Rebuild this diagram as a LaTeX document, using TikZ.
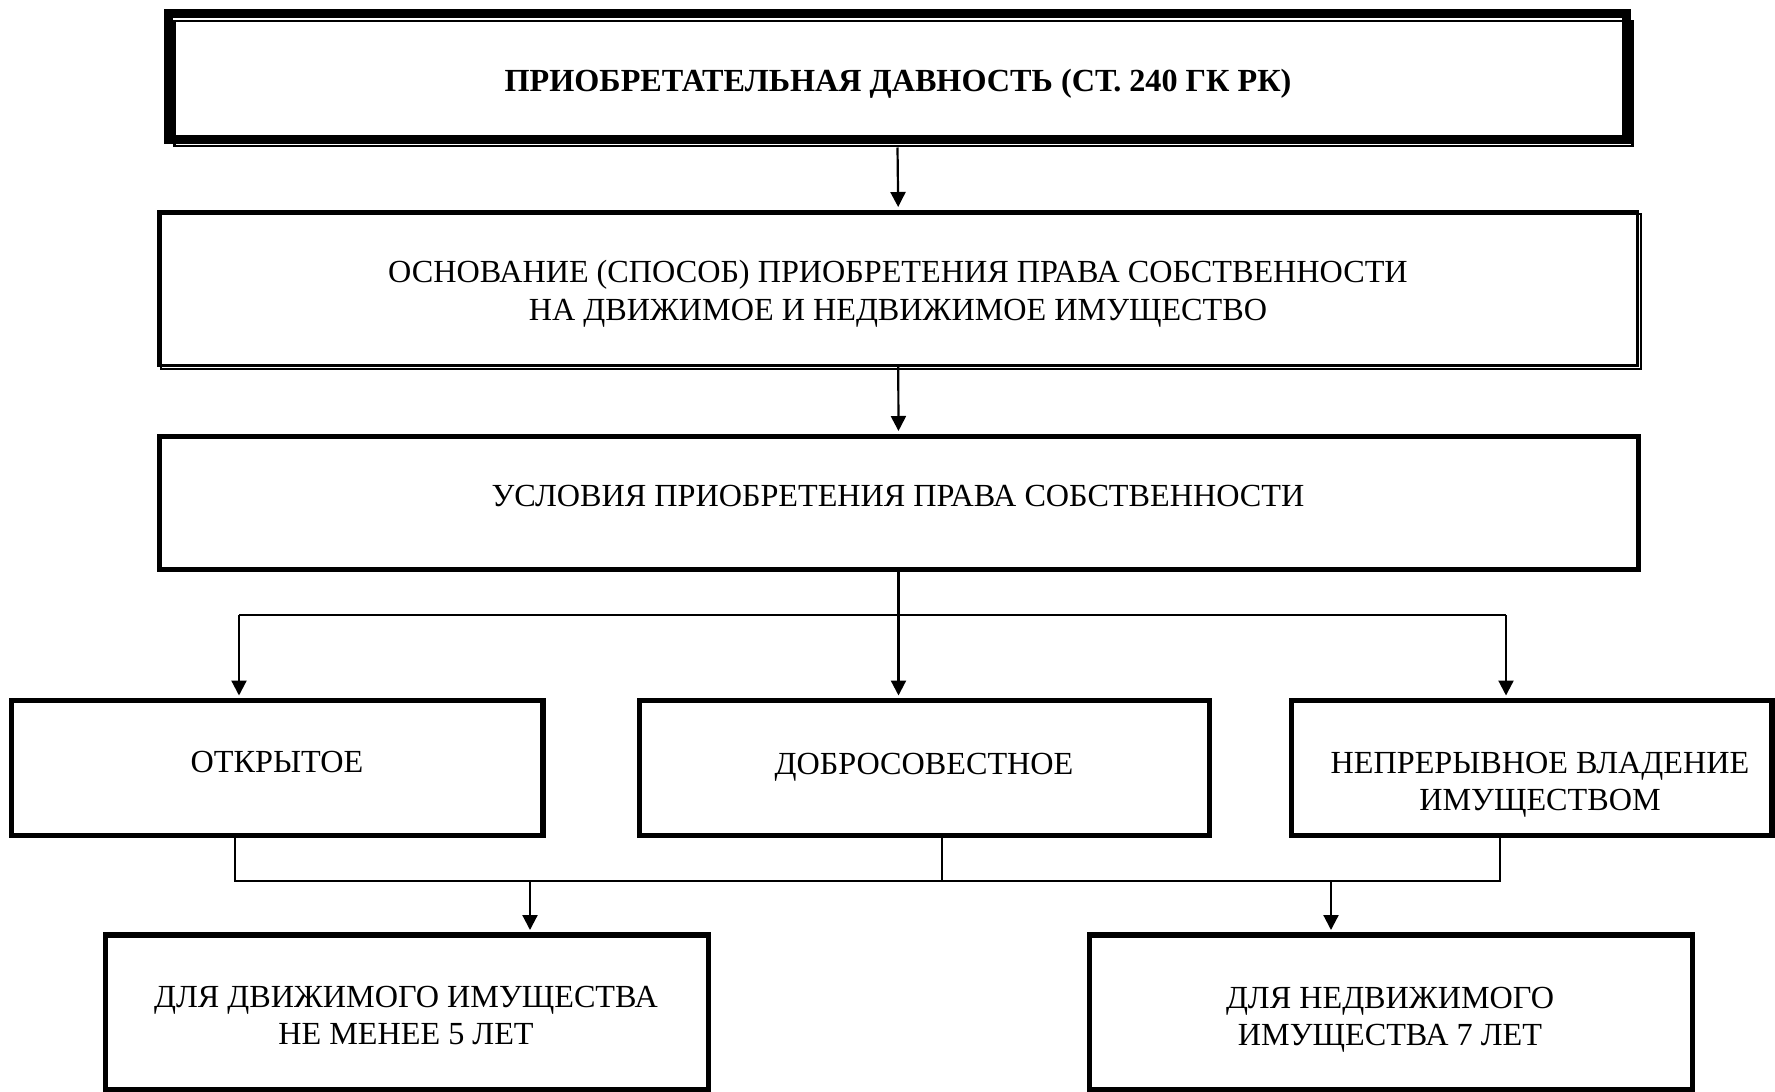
\documentclass[tikz,border=0pt]{standalone}
\usepackage{fontspec}
\setmainfont{Liberation Serif}
\usetikzlibrary{arrows.meta,calc}
\begin{document}
\begin{tikzpicture}[x=1pt,y=-1pt,
 box/.style={draw,line width=5.3pt,outer sep=0pt,inner sep=0pt,rectangle},
 txt/.style={font=\fontsize{32.2}{37.5}\selectfont,align=center,inner sep=0pt},
 arr/.style={line width=2.2pt,-{Triangle[width=15pt,length=15pt]},shorten >=5pt},
 ln/.style={line width=1.6pt}]
\useasboundingbox (0,0) rectangle (1775,1092);
\clip (0,0) rectangle (1775,1092);
% top box
\node[box,line width=9pt,minimum width=1458pt,minimum height=126pt] (t1) at (897.5,76.5) {};
\draw[line width=2.5pt] ($(t1.north west)+(6,7.5)$) rectangle ($(t1.south east)+(6,6.5)$);
\node[txt,font=\fontsize{32.2}{37}\selectfont\bfseries] (t1t) at (898,84) {ПРИОБРЕТАТЕЛЬНАЯ ДАВНОСТЬ (СТ.~240 ГК РК)};
% second box
\node[box,line width=3.5pt,minimum width=1478.5pt,minimum height=153.5pt] (t2) at (898.25,288.75) {};
\draw[line width=1.5pt] ($(t2.north west)+(2,2)$) rectangle ($(t2.south east)+(3.5,3.5)$);
\node[txt] (t2t) at (898,294) {ОСНОВАНИЕ (СПОСОБ) ПРИОБРЕТЕНИЯ ПРАВА СОБСТВЕННОСТИ\\НА ДВИЖИМОЕ И НЕДВИЖИМОЕ ИМУЩЕСТВО};
% third box
\node[box,line width=5pt,minimum width=1479pt,minimum height=133pt] (b3) at (898.5,502.5) {};
\node[txt] (b3t) at (898,496) {УСЛОВИЯ ПРИОБРЕТЕНИЯ ПРАВА СОБСТВЕННОСТИ};
% row
\node[box,minimum width=531.5pt,minimum height=135pt] (rA) at (277.25,768) {};
\node[txt] (rAt) at (277,762) {ОТКРЫТОЕ};
\node[box,minimum width=570pt,minimum height=135pt] (rB) at (924.5,768) {};
\node[txt] (rBt) at (924,767) {ДОБРОСОВЕСТНОЕ};
\node[box,minimum width=480.5pt,minimum height=135pt] (rC) at (1531.75,768) {};
\node[txt] (rCt) at (1540,785) {НЕПРЕРЫВНОЕ ВЛАДЕНИЕ\\ИМУЩЕСТВОМ};
% bottom
\node[box,minimum width=603pt,minimum height=154.5pt] (rD) at (407,1012.25) {};
\node[txt] (rDt) at (406,1015.5) {ДЛЯ ДВИЖИМОГО ИМУЩЕСТВА\\НЕ МЕНЕЕ 5 ЛЕТ};
\node[box,minimum width=603pt,minimum height=154.5pt] (rE) at (1391,1012.25) {};
\node[txt] (rEt) at (1390,1020) {ДЛЯ НЕДВИЖИМОГО\\ИМУЩЕСТВА 7 ЛЕТ};
% connectors
\draw[arr] ($(t1.south)+(0,8)$) -- (t2.north);
\draw[arr] (t2.south) -- (b3.north);
\draw[arr] (b3.south) -- (b3.south |- rB.north);
\coordinate (jL) at (239,615);
\coordinate (jR) at (1506,615);
\draw[ln] (jL) -- (jR);
\draw[arr] (jL) -- (jL |- rA.north);
\draw[arr] (jR) -- (jR |- rC.north);
\coordinate (kA) at (235,881);
\coordinate (kB) at (942,881);
\coordinate (kC) at (1500,881);
\draw[ln] (rA.south -| kA) -- (kA) -- (kC) -- (rC.south -| kC);
\draw[ln] (rB.south -| kB) -- (kB);
\coordinate (kD) at (530,881);
\coordinate (kE) at (1331,881);
\draw[arr] (kD) -- (kD |- rD.north);
\draw[arr] (kE) -- (kE |- rE.north);
\end{tikzpicture}
\end{document}
